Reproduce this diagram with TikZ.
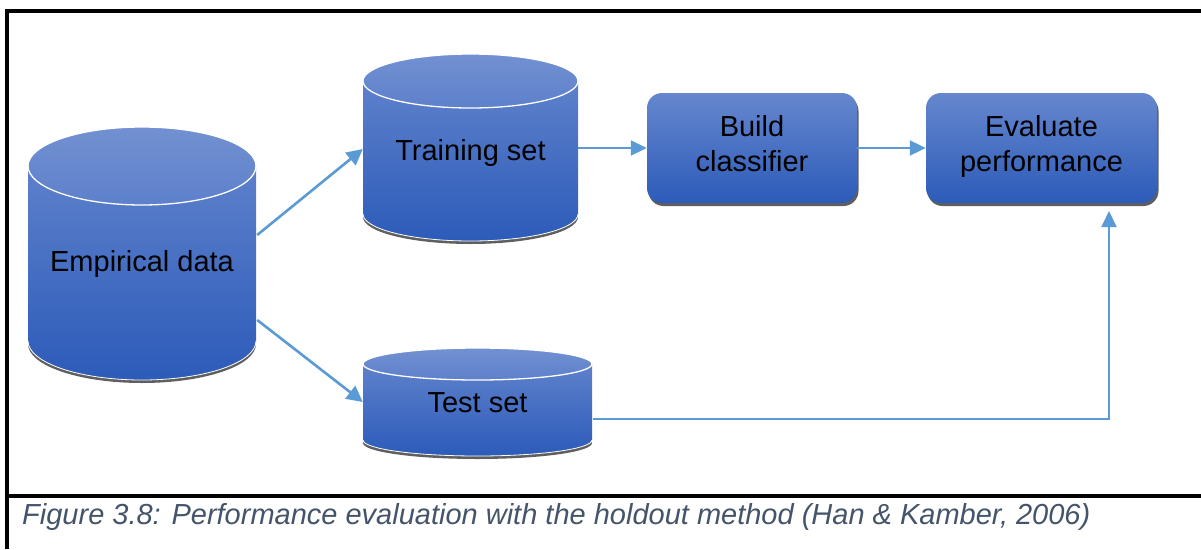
\documentclass[tikz,border=0pt]{standalone}
\usepackage{fontspec}
\setmainfont{Liberation Sans}
\usetikzlibrary{arrows.meta,shadows,calc}
\definecolor{cyltop}{HTML}{6687CE}
\definecolor{cylbot}{HTML}{2C5BB9}
\definecolor{arrowblue}{HTML}{5B9BD5}
\definecolor{capgray}{HTML}{44546A}
\definecolor{shadowgray}{HTML}{5F5F5F}

% x1, x2, y of top ellipse centre, y of bottom ellipse centre, y radius
\newcommand{\drawcyl}[5]{%
  \pgfmathsetmacro{\cylrx}{(#2-#1)/2}%
  \pgfmathsetmacro{\cylcx}{(#1+#2)/2}%
  \fill[shadowgray] (\cylcx,#4+3) ellipse[x radius=\cylrx, y radius=#5];
  \shade[top color=cyltop, bottom color=cylbot]
    (#1,#3) -- (#1,#4) arc[start angle=180,end angle=0,x radius=\cylrx,y radius=#5]
    -- (#2,#3) arc[start angle=0,end angle=-180,x radius=\cylrx,y radius=#5] -- cycle;
  \draw[white,line width=0.8pt] (#1,#4) arc[start angle=180,end angle=0,x radius=\cylrx,y radius=#5];
  \shade[top color=cyltop!92!white, bottom color=cyltop!85!cylbot] (\cylcx,#3) ellipse[x radius=\cylrx, y radius=#5];
  \draw[white,line width=1.3pt] (\cylcx,#3) ellipse[x radius=\cylrx, y radius=#5];
}

\tikzset{
  cyltext/.style={font=\fontsize{29}{35}\selectfont, text=black, inner sep=0pt, minimum height=36},
  procbox/.style={rounded corners=15pt, minimum width=210, minimum height=110, align=center,
    top color=cyltop, bottom color=cylbot, draw=none,
    font=\fontsize{29}{35}\selectfont, text=black,
    drop shadow={shadow xshift=1.5pt, shadow yshift=-3pt, fill=shadowgray, opacity=1}},
  conn/.style={draw=arrowblue, line width=2.6pt, -{Triangle[length=16pt,width=16pt]}},
  connthin/.style={draw=arrowblue, line width=2pt, -{Triangle[length=16pt,width=15pt]}},
  frameline/.style={draw=black, line width=3.2pt}
}

\begin{document}
\begin{tikzpicture}[x=1pt,y=-1pt]
\useasboundingbox (0,0) rectangle (1201,549);

% frame
\draw[frameline] (7,549) -- (7,11) -- (1201,11);
\draw[frameline] (7,496) -- (1201,496);

% cylinders
\drawcyl{28}{256}{166}{341}{39}
\drawcyl{363}{578}{81}{214}{27}
\drawcyl{363}{592}{364}{440}{16}

% text nodes of cylinders
\node[cyltext, minimum width=228] (emp) at (142,264) {Empirical data};
\node[cyltext, minimum width=215] (train) at (470.5,153) {Training set};
\node[cyltext, minimum width=229] (test) at (477.5,403) {Test set};

% process boxes
\node[procbox] (build) at (752,148) {Build\\classifier\\[-25pt]\mbox{}};
\node[procbox, minimum width=231] (eval) at (1041.5,148) {Evaluate\\performance\\[-25pt]\mbox{}};

% connectors
\draw[conn] ($(emp.east)+(1,-29)$) -- ($(train.west)+(0,-4)$);
\draw[conn] ($(emp.east)+(1,56)$) -- ($(test.west)+(0,-1)$);
\draw[connthin] (train.east |- build.west) -- (build.west);
\draw[connthin] (build.east) -- (eval.west);
\coordinate (evtip) at (1109,211);
\draw[connthin] ($(test.east)+(1,16)$) -| (evtip);

% caption
\node[anchor=base west, inner sep=0pt, font=\fontsize{29}{34}\selectfont\itshape, text=capgray] (cap) at (22,524)
  {Figure 3.8: Performance evaluation with the holdout method (Han \& Kamber, 2006)};
\end{tikzpicture}
\end{document}
